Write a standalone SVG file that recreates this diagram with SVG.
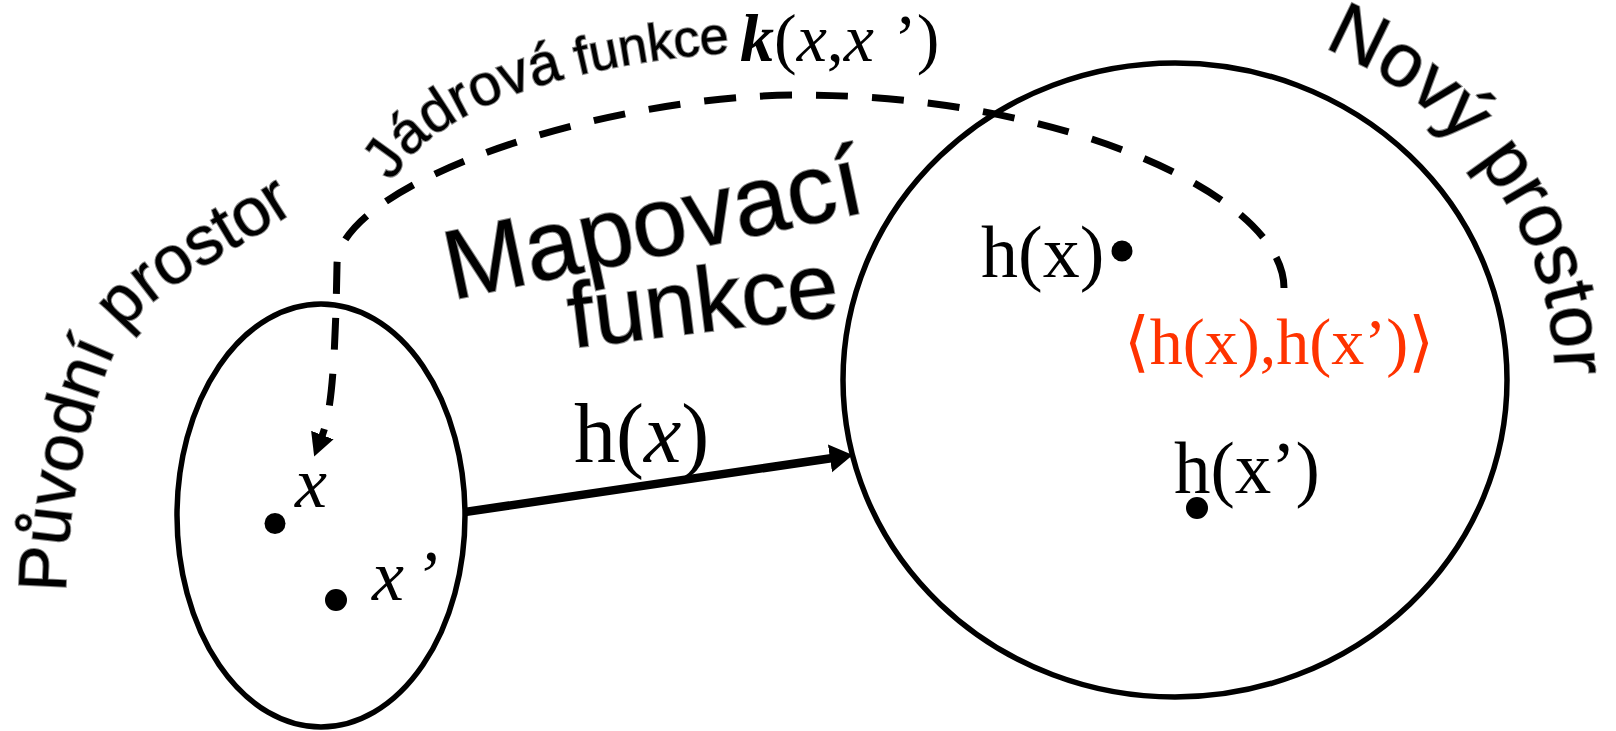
<svg xmlns="http://www.w3.org/2000/svg" width="1616" height="731" viewBox="0 0 1616 731">
<style>
.sans { font-family: "Liberation Sans", Arial, sans-serif; fill: #000; stroke: #8a8a8a; stroke-width: 2; paint-order: stroke; }
.serif { font-family: "Liberation Serif", "Times New Roman", "DejaVu Serif", serif; fill: #000; }
.red { fill: #FF3300; }
.shape { fill: none; stroke: #000; stroke-width: 5.5; }
.dot { fill: #000; }
.dash { fill: none; stroke: #000; stroke-width: 7; stroke-dasharray: 32 24; }
.arrow { fill: none; stroke: #000; stroke-width: 8.5; }
</style>
<defs>
<path id="pPuv" d="M 66 592 C 66 500 95 380 126 330 C 150 291 245 245 300 208"/>
<path id="pJad" d="M 392 182 C 430 112 560 60 770 50"/>
<path id="pNovy" d="M 1323.5 47.7 A 380 361 0 0 1 1551.3 430.2"/>
<marker id="mSolid" markerUnits="userSpaceOnUse" markerWidth="24" markerHeight="30" viewBox="0 -15 24 30" refX="1" refY="0" orient="auto">
<path d="M0,-14 L23,0 L0,14 z" fill="#000"/>
</marker>
<marker id="mDash" markerUnits="userSpaceOnUse" markerWidth="24" markerHeight="26" viewBox="0 -13 24 26" refX="1" refY="0" orient="auto">
<path d="M0,-12 L23,0 L0,12 z" fill="#000"/>
</marker>
</defs>
<rect width="1616" height="731" fill="#fff"/>

<g id="original-space">
<ellipse class="shape" cx="321" cy="515.5" rx="144" ry="211.5"/>
<circle class="dot" cx="275" cy="523.5" r="10.5"/>
<circle class="dot" cx="336" cy="600" r="11"/>
<text class="serif" x="295" y="507" font-size="72" font-style="italic">x</text>
<text class="serif" x="372" y="600" font-size="72" font-style="italic">x<tspan dx="10">’</tspan></text>
</g>

<g id="new-space">
<ellipse class="shape" cx="1175" cy="380" rx="332" ry="317"/>
<circle class="dot" cx="1122" cy="251" r="10.5"/>
<circle class="dot" cx="1197" cy="508" r="11"/>
<text class="serif" x="981" y="277" font-size="74">h(x)</text>
<text class="serif" x="1174" y="493" font-size="73">h(x’)</text>
<text class="serif red" x="1124" y="364" font-size="66">⟨h(x),h(x’)⟩</text>
</g>

<g id="connectors">
<line class="arrow" x1="465" y1="512" x2="831" y2="458.2" marker-end="url(#mSolid)"/>
<path class="dash" d="M 1284 288 C 1284 195 1060 95 800 95 C 600 95 337 185 337 265 C 335 380 330 415 322 436" marker-end="url(#mDash)"/>
</g>

<g id="labels">
<text class="sans" font-size="68"><textPath href="#pPuv">Původní prostor</textPath></text>
<text class="sans" font-size="52"><textPath href="#pJad"><tspan font-size="58">Jádrová</tspan> funkce</textPath></text>
<text class="serif" x="740" y="61" font-size="68"><tspan font-weight="bold" font-style="italic">k</tspan>(<tspan font-style="italic">x</tspan>,<tspan font-style="italic">x</tspan><tspan dx="20">’)</tspan></text>
<text class="sans" x="452" y="300" font-size="98" transform="rotate(-12 452 300)">Mapovací</text>
<text class="sans" x="572" y="348" font-size="92" transform="rotate(-7 572 348)">funkce</text>
<text class="sans" font-size="75"><textPath href="#pNovy">Nový prostor</textPath></text>
<text class="serif" x="574" y="462" font-size="84">h(<tspan font-style="italic">x</tspan>)</text>
</g>
</svg>
